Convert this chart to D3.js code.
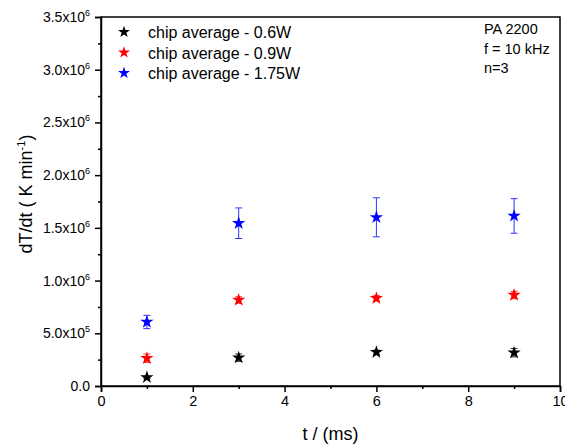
<!DOCTYPE html>
<html>
<head>
<meta charset="utf-8">
<script src="https://cdn.jsdelivr.net/npm/d3@7"></script>
<style>
  html, body { margin: 0; padding: 0; background: #fff; }
  svg { display: block; font-family: "Liberation Sans", Arial, sans-serif; }
</style>
</head>
<body>
<svg id="chart" width="565" height="445"></svg>
<script>
// Heating rate versus pulse duration for three laser powers
const times = [1, 3, 6, 9];
const seriesNames = ["chip average - 0.6W", "chip average - 0.9W", "chip average - 1.75W"];
const seriesColors = ["#000000", "#ff0000", "#0000ff"];
const rate06 = [8.2e4, 2.69e5, 3.2e5, 3.16e5];
const err06 = [1.0e4, 3.5e4, 2.0e4, 4.0e4];
const rate09 = [2.63e5, 8.16e5, 8.32e5, 8.63e5];
const err09 = [4.0e4, 3.0e4, 2.5e4, 3.5e4];
const rate175 = [6.07e5, 1.544e6, 1.6e6, 1.613e6];
const err175 = [6.3e4, 1.45e5, 1.85e5, 1.64e5];
const yTickValues = [0, 5e5, 1e6, 1.5e6, 2e6, 2.5e6, 3e6, 3.5e6];
const yTickMantissa = ["0.0", "5.0", "1.0", "1.5", "2.0", "2.5", "3.0", "3.5"];
const yTickExponent = ["", "5", "6", "6", "6", "6", "6", "6"];
const xTickValues = [0, 2, 4, 6, 8, 10];
const noteLines = ["PA 2200", "f = 10 kHz", "n=3"];

const series = [rate06, rate09, rate175].map((vals, i) => ({
  name: seriesNames[i],
  color: seriesColors[i],
  points: times.map((t, j) => ({ t, v: vals[j], e: [err06, err09, err175][i][j] }))
}));

const svg = d3.select("#chart");
const m = { left: 101, top: 17, right: 5, bottom: 59 };
const W = 565, H = 445;
const x = d3.scaleLinear().domain([0, 10]).range([m.left, W - m.right]);
const y = d3.scaleLinear().domain([0, 3.5e6]).range([H - m.bottom, m.top]);

// plot frame
svg.append("rect")
  .attr("x", x(0)).attr("y", y(3.5e6))
  .attr("width", x(10) - x(0)).attr("height", y(0) - y(3.5e6))
  .attr("fill", "none").attr("stroke", "#000").attr("stroke-width", 1.5);

// x axis: major ticks with labels, minor ticks between
const xAxis = svg.append("g").attr("transform", `translate(0,${y(0)})`)
  .call(d3.axisBottom(x).tickValues(xTickValues).tickSize(6).tickPadding(4).tickFormat(d3.format("d")));
xAxis.select(".domain").attr("stroke-width", 1.5);
xAxis.selectAll(".tick line").attr("stroke-width", 1.5);
xAxis.selectAll(".tick text").attr("font-size", 14.5).attr("fill", "#000");
svg.append("g").attr("transform", `translate(0,${y(0)})`)
  .call(d3.axisBottom(x).tickValues([1, 3, 5, 7, 9]).tickSize(3).tickFormat(""))
  .call(g => g.select(".domain").remove())
  .selectAll(".tick line").attr("stroke-width", 1.5);

// y axis: labels in a×10^n form
const yAxis = svg.append("g").attr("transform", `translate(${x(0)},0)`)
  .call(d3.axisLeft(y).tickValues(yTickValues).tickSize(6).tickFormat(""));
yAxis.select(".domain").attr("stroke-width", 1.5);
yAxis.selectAll(".tick line").attr("stroke-width", 1.5);
svg.append("g").attr("transform", `translate(${x(0)},0)`)
  .call(d3.axisLeft(y).tickValues(d3.range(2.5e5, 3.5e6, 5e5)).tickSize(3).tickFormat(""))
  .call(g => g.select(".domain").remove())
  .selectAll(".tick line").attr("stroke-width", 1.5);

yTickValues.forEach((v, i) => {
  const t = svg.append("text")
    .attr("x", x(0) - 11).attr("y", y(v) + 5)
    .attr("text-anchor", "end").attr("font-size", 14).attr("fill", "#000");
  if (yTickExponent[i]) {
    t.append("tspan").text(yTickMantissa[i] + "x10");
    t.append("tspan").attr("dy", -6).attr("font-size", 9).text(yTickExponent[i]);
  } else {
    t.text(yTickMantissa[i]);
  }
});

// axis titles
svg.append("text")
  .attr("x", (x(0) + x(10)) / 2).attr("y", 440)
  .attr("text-anchor", "middle").attr("font-size", 18).text("t / (ms)");

const yl = svg.append("text")
  .attr("transform", `translate(32,194) rotate(-90)`)
  .attr("text-anchor", "middle").attr("font-size", 18);
yl.append("tspan").text("dT/dt ( K min");
yl.append("tspan").attr("dy", -7).attr("font-size", 11).text("-1");
yl.append("tspan").attr("dy", 7).text(")");

// error bars and star markers
const star = d3.symbol().type(d3.symbolStar).size(55);
const capHalf = 3.5;
series.forEach(s => {
  const g = svg.append("g");
  const eb = g.selectAll("g.err").data(s.points).join("g").attr("class", "err")
    .attr("stroke", s.color).attr("stroke-width", 1).attr("opacity", 0.8);
  eb.append("line")
    .attr("x1", d => x(d.t)).attr("x2", d => x(d.t))
    .attr("y1", d => y(d.v - d.e)).attr("y2", d => y(d.v + d.e));
  eb.append("line")
    .attr("x1", d => x(d.t) - capHalf).attr("x2", d => x(d.t) + capHalf)
    .attr("y1", d => y(d.v + d.e)).attr("y2", d => y(d.v + d.e));
  eb.append("line")
    .attr("x1", d => x(d.t) - capHalf).attr("x2", d => x(d.t) + capHalf)
    .attr("y1", d => y(d.v - d.e)).attr("y2", d => y(d.v - d.e));
  g.selectAll("path.pt").data(s.points).join("path").attr("class", "pt")
    .attr("d", star)
    .attr("transform", d => `translate(${x(d.t)},${y(d.v)})`)
    .attr("fill", s.color);
});

// legend
const legend = svg.append("g");
series.forEach((s, i) => {
  const ly = 32 + i * 20.5;
  legend.append("path").attr("d", d3.symbol().type(d3.symbolStar).size(45)())
    .attr("transform", `translate(124,${ly})`).attr("fill", s.color);
  legend.append("text").attr("x", 148).attr("y", ly + 6)
    .attr("font-size", 16).attr("fill", "#000").text(s.name);
});

// sample notes
noteLines.forEach((line, i) => {
  svg.append("text").attr("x", 484).attr("y", 34 + i * 19.5)
    .attr("font-size", 14.5).attr("fill", "#000").text(line);
});
</script>
</body>
</html>
